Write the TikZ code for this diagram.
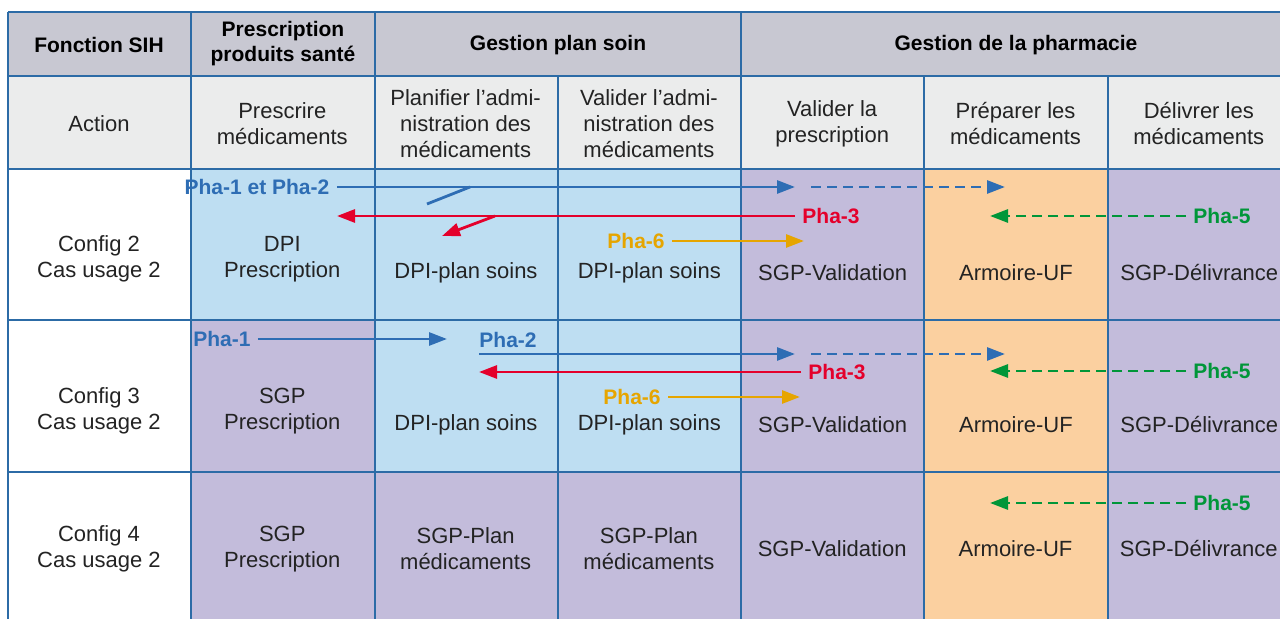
\documentclass[tikz,border=0pt]{standalone}
\usepackage{fontspec}
\setmainfont{Liberation Sans}
\usetikzlibrary{positioning,arrows.meta}
\definecolor{gridblue}{RGB}{44,107,166}
\definecolor{headgray}{RGB}{200,200,210}
\definecolor{actgray}{RGB}{235,236,236}
\definecolor{dpiblue}{RGB}{190,222,242}
\definecolor{sgpmauve}{RGB}{195,188,219}
\definecolor{ufpeach}{RGB}{251,208,160}
\definecolor{txtgray}{RGB}{35,35,35}
\definecolor{phablue}{RGB}{46,109,180}
\definecolor{phared}{RGB}{228,0,43}
\definecolor{phaorange}{RGB}{230,165,0}
\definecolor{phagreen}{RGB}{0,150,57}
\tikzset{
  gridline/.style={draw=gridblue,line width=0.8pt},
  cell/.style={align=center,inner sep=0pt,text=txtgray,font=\fontsize{11}{13}\selectfont},
  head/.style={cell,text=black,font=\fontsize{10.5}{12.5}\selectfont\bfseries},
  pha/.style={inner xsep=3.5pt,inner ysep=0pt,font=\fontsize{10.5}{12}\selectfont\bfseries},
  flow/.style={line width=1.4pt,-{Triangle[length=9pt,width=6.5pt]}},
  flowd/.style={flow,dash pattern=on 5pt off 3pt}
}
\begin{document}
\begin{tikzpicture}[x=0.5pt,y=-0.5pt,node distance=91.65pt,on grid]
\useasboundingbox (0,0) rectangle (1280,619);
\fill[headgray] (8,12) rectangle (1280,76);
\fill[actgray] (8,76) rectangle (1280,169);
\fill[sgpmauve] (191,169) rectangle (1280,619);
\fill[dpiblue] (191,169) rectangle (741,320);
\fill[dpiblue] (375,320) rectangle (741,472);
\fill[ufpeach] (924,169) rectangle (1108,619);
\foreach \y in {12,76,169,320,472}
  \draw[gridline] (8,\y) -- (1280,\y);
\foreach \x in {8,191,375,741}
  \draw[gridline] (\x,12) -- (\x,619);
\foreach \x in {558,924,1108}
  \draw[gridline] (\x,76) -- (\x,619);

\node[head] (fct) at (99,45) {Fonction SIH};
\node[head] (presc) at (283,44) {Prescription\\produits santé};
\node[head] (plan) at (558,45) {Gestion plan soin};
\node[head] (pharma) at (1016,45) {Gestion de la pharmacie};

\node[cell] (act) at (99,124) {Action};
\node[cell] (act_1) [right=of act] {Prescrire\\médicaments};
\node[cell] (act_2) [right=of act_1] {Planifier l’admi-\\nistration des\\médicaments};
\node[cell] (act_3) [right=of act_2] {Valider l’admi-\\nistration des\\médicaments};
\node[cell] (act_4) [right=of act_3] {Valider la\\prescription};
\node[cell] (act_5) [right=of act_4] {Préparer les\\médicaments};
\node[cell] (act_6) [right=of act_5] {Délivrer les\\médicaments};

\node[cell] (cfg2) at (99,259) {Config 2\\Cas usage 2};
\node[cell] (cfg2_1) [right=of cfg2] {DPI\\Prescription};
\node[cell] (cfg2_2) at (466,273) {DPI-plan soins};
\node[cell] (cfg2_3) [right=of cfg2_2] {DPI-plan soins};
\node[cell] (cfg2_4) [right=of cfg2_3] {SGP-Validation};
\node[cell] (cfg2_5) [right=of cfg2_4] {Armoire-UF};
\node[cell] (cfg2_6) [right=of cfg2_5] {SGP-Délivrance};

\node[cell] (cfg3) at (99,411) {Config 3\\Cas usage 2};
\node[cell] (cfg3_1) [right=of cfg3] {SGP\\Prescription};
\node[cell] (cfg3_2) at (466,425) {DPI-plan soins};
\node[cell] (cfg3_3) [right=of cfg3_2] {DPI-plan soins};
\node[cell] (cfg3_4) [right=of cfg3_3] {SGP-Validation};
\node[cell] (cfg3_5) [right=of cfg3_4] {Armoire-UF};
\node[cell] (cfg3_6) [right=of cfg3_5] {SGP-Délivrance};

\node[cell] (cfg4) at (99,549) {Config 4\\Cas usage 2};
\node[cell] (cfg4_1) [right=of cfg4] {SGP\\Prescription};
\node[cell] (cfg4_2) [right=of cfg4_1] {SGP-Plan\\médicaments};
\node[cell] (cfg4_3) [right=of cfg4_2] {SGP-Plan\\médicaments};
\node[cell] (cfg4_4) [right=of cfg4_3] {SGP-Validation};
\node[cell] (cfg4_5) [right=of cfg4_4] {Armoire-UF};
\node[cell] (cfg4_6) [right=of cfg4_5] {SGP-Délivrance};

% config 2
\node[pha,text=phablue] (p2_12) at (257,187) {Pha-1 et Pha-2};
\node[pha,text=phared] (p2_3) at (831,216) {Pha-3};
\node[pha,text=phaorange] (p2_6) at (636,241) {Pha-6};
\node[pha,text=phagreen] (p2_5) at (1222,216) {Pha-5};
\coordinate (b2_end) at (795,187);
\coordinate (b2_fork) at (470,187);
\coordinate (b2_stub) at (427,204);
\coordinate (b2_ds) at (811,187);
\coordinate (b2_de) at (1005,187);
\coordinate (r2_end) at (337,216);
\coordinate (r2_fork) at (495,216);
\coordinate (r2_tip) at (442,236);
\coordinate (o2_end) at (804,241);
\coordinate (g2_end) at (990,216);
\draw[phablue,flow] (p2_12.east) -- (b2_end);
\draw[phablue,line width=1.4pt] (b2_fork) -- (b2_stub);
\draw[phablue,flowd] (b2_ds) -- (b2_de);
\draw[phared,flow] (p2_3.west) -- (r2_end);
\draw[phared,flow] (r2_fork) -- (r2_tip);
\draw[phaorange,flow] (p2_6.east) -- (o2_end);
\draw[phagreen,flowd] (p2_5.west) -- (g2_end);

% config 3
\node[pha,text=phablue] (p3_1) at (222,339) {Pha-1};
\node[pha,text=phablue] (p3_2) at (508,340) {Pha-2};
\node[pha,text=phared] (p3_3) at (837,372) {Pha-3};
\node[pha,text=phaorange] (p3_6) at (632,397) {Pha-6};
\node[pha,text=phagreen] (p3_5) at (1222,371) {Pha-5};
\coordinate (b3_end) at (447,339);
\coordinate (b3_start) at (479,354);
\coordinate (b3_tip) at (795,354);
\coordinate (b3_ds) at (811,354);
\coordinate (b3_de) at (1005,354);
\coordinate (r3_end) at (479,372);
\coordinate (o3_end) at (800,397);
\coordinate (g3_end) at (990,371);
\draw[phablue,flow] (p3_1.east) -- (b3_end);
\draw[phablue,flow] (b3_start) -- (b3_tip);
\draw[phablue,flowd] (b3_ds) -- (b3_de);
\draw[phared,flow] (p3_3.west) -- (r3_end);
\draw[phaorange,flow] (p3_6.east) -- (o3_end);
\draw[phagreen,flowd] (p3_5.west) -- (g3_end);

% config 4
\node[pha,text=phagreen] (p4_5) at (1222,503) {Pha-5};
\coordinate (g4_end) at (990,503);
\draw[phagreen,flowd] (p4_5.west) -- (g4_end);
\end{tikzpicture}
\end{document}
